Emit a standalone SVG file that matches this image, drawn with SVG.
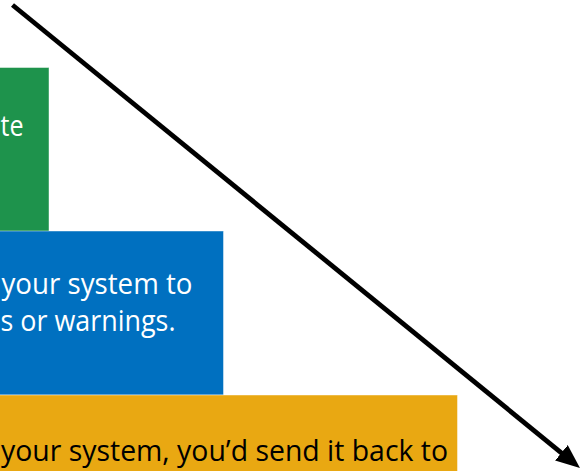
<svg xmlns="http://www.w3.org/2000/svg" width="586" height="471" viewBox="0 0 586 471">
<style>
.box{stroke:#ffffff;stroke-opacity:0.45;stroke-width:1}
.t{font-family:"Open Sans","Noto Sans","Liberation Sans",sans-serif;font-size:29px}
.w{fill:#ffffff}
.k{fill:#000000}
.conn{fill:none;stroke:#000000;stroke-width:4.8}
</style>
<defs>
<marker id="ah" markerUnits="userSpaceOnUse" markerWidth="24" markerHeight="20" viewBox="0 0 24 20" refX="11" refY="10" orient="auto">
<path d="M0,0 L24,10 L0,20 z" fill="#000000"/>
</marker>
</defs>
<rect width="586" height="471" fill="#ffffff"/>
<g id="node-green">
<rect class="box" x="-2" y="67.5" width="51" height="164" fill="#1e934c"/>
<text class="t w" x="0.5" y="136" textLength="23" lengthAdjust="spacingAndGlyphs">te</text>
</g>
<g id="node-blue">
<rect class="box" x="-2" y="231" width="225.5" height="164" fill="#0070c0"/>
<text class="t w" x="1.5" y="294" textLength="191" lengthAdjust="spacingAndGlyphs">your system to</text>
<text class="t w" x="0.5" y="331" textLength="175" lengthAdjust="spacingAndGlyphs">s or warnings.</text>
</g>
<g id="node-yellow">
<rect class="box" x="-2" y="395" width="459.5" height="80" fill="#e9a812"/>
<text class="t k" x="1" y="461" textLength="447" lengthAdjust="spacingAndGlyphs">your system, you’d send it back to</text>
</g>
<g id="connectors">
<path class="conn" d="M12.5,5 L569.9,459.8" marker-end="url(#ah)"/>
</g>
</svg>
